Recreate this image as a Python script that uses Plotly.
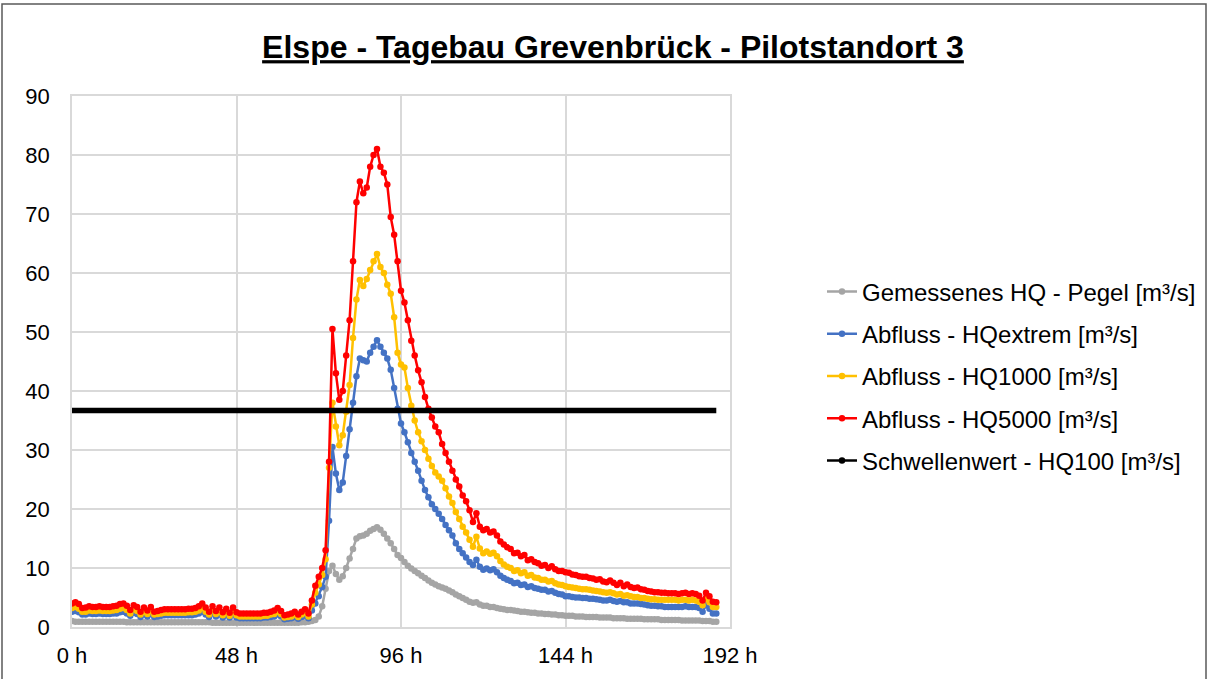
import plotly.graph_objects as go

# ---------------- data (hourly, 0 h .. 188 h) ----------------
hours = list(range(0, 189))

pegel = [
    1.0, 0.9, 0.9, 0.9, 0.9, 0.9, 0.9, 0.9, 0.9, 0.9, 0.9, 0.9, 0.9, 0.9, 0.9, 0.9,
    0.8, 0.8, 0.8, 0.8, 0.8, 0.8, 0.8, 0.8, 0.8, 0.8, 0.8, 0.8, 0.8, 0.8, 0.8, 0.8,
    0.8, 0.8, 0.8, 0.8, 0.8, 0.8, 0.8, 0.8, 0.8, 0.7, 0.7, 0.7, 0.7, 0.7, 0.7, 0.7,
    0.7, 0.7, 0.7, 0.7, 0.7, 0.7, 0.7, 0.7, 0.7, 0.7, 0.7, 0.7, 0.7, 0.7, 0.7, 0.7,
    0.7, 0.7, 0.7, 0.8, 0.8, 0.9,
    1.0, 1.2, 1.8, 3.5, 6.5, 9.5, 10.4, 9.0, 8.0, 8.6, 10.0, 11.6, 13.2, 15.0, 15.4,
    15.5, 15.8, 16.3, 16.6, 16.9, 16.5, 15.8, 15.0, 14.2, 13.2, 12.2, 11.7, 11.0,
    10.4, 9.9, 9.5, 9.1, 8.7, 8.3, 7.9, 7.5, 7.2, 6.9, 6.7, 6.5, 6.2, 5.9, 5.5, 5.2,
    4.9, 4.6, 4.3, 4.1, 4.2, 3.8, 3.6, 3.6, 3.4, 3.4, 3.2, 3.1, 3.0, 2.9, 2.9, 2.8,
    2.7, 2.6, 2.6, 2.5, 2.4, 2.4, 2.3, 2.3, 2.2, 2.2, 2.1, 2.1, 2.0, 2.0, 1.9, 1.9,
    1.9, 1.8, 1.8, 1.8, 1.7, 1.7, 1.7, 1.7, 1.6, 1.6, 1.6, 1.6, 1.5, 1.5, 1.5, 1.5,
    1.4, 1.4, 1.4, 1.4, 1.4, 1.3, 1.3, 1.3, 1.3, 1.3, 1.2, 1.2, 1.2, 1.2, 1.2, 1.2,
    1.1, 1.1, 1.1, 1.1, 1.1, 1.1, 1.0, 1.0, 1.0, 0.9, 0.9,
]

hq_extrem = [
    2.6, 2.7, 2.5, 2.1, 2.1, 2.3, 2.2, 2.2, 2.3, 2.2, 2.2, 2.2, 2.3, 2.3, 2.5, 2.6,
    2.3, 1.9, 2.4, 2.2, 1.7, 2.1, 1.8, 2.2, 1.7, 1.8, 1.9, 2.0, 2.0, 2.0, 2.0, 2.0,
    2.0, 2.0, 2.0, 2.0, 2.1, 2.3, 2.6, 2.1, 1.7, 2.3, 1.8, 2.1, 1.6, 2.0, 1.6, 2.1,
    1.6, 1.5, 1.5, 1.5, 1.5, 1.5, 1.5, 1.5, 1.6, 1.6, 1.7, 1.8, 2.1, 1.8, 1.3, 1.4,
    1.5, 1.7, 1.4, 1.7, 1.9, 1.5,
    2.8, 4.0, 5.2, 6.8, 8.5, 18.0, 30.5, 26.0, 23.2, 24.5, 29.0, 33.5, 38.0, 42.5,
    45.5, 45.2, 45.0, 46.5, 47.5, 48.6, 47.5, 46.5, 45.5, 43.6, 40.5, 37.0, 34.5,
    33.0, 31.3, 29.5, 28.0, 26.5, 24.8, 23.2, 22.0, 20.8, 20.0, 19.2, 18.3, 17.3,
    16.4, 15.5, 14.2, 13.2, 12.5, 11.8, 11.0, 10.5, 11.4, 10.2, 9.7, 9.9, 9.6, 9.8,
    9.3, 8.7, 8.3, 8.0, 7.8, 7.4, 7.5, 7.1, 7.2, 6.8, 6.9, 6.6, 6.5, 6.3, 6.3, 6.0,
    6.1, 5.8, 5.6, 5.5, 5.2, 5.2, 5.1, 5.0, 5.0, 4.9, 4.9, 4.8, 4.8, 4.7, 4.6, 4.5,
    4.5, 4.6, 4.4, 4.3, 4.4, 4.2, 4.2, 4.0, 4.0, 4.0, 3.9, 3.8, 3.7, 3.6, 3.6, 3.5,
    3.5, 3.4, 3.4, 3.4, 3.4, 3.4, 3.4, 3.5, 3.4, 3.4, 3.4, 3.2, 2.6, 3.7, 3.1, 2.3,
    2.3,
]

hq1000 = [
    3.2, 3.4, 3.1, 2.6, 2.6, 2.8, 2.7, 2.7, 2.8, 2.7, 2.7, 2.7, 2.8, 2.9, 3.1, 3.2,
    2.9, 2.3, 3.0, 2.7, 2.1, 2.6, 2.2, 2.7, 2.1, 2.2, 2.3, 2.4, 2.4, 2.4, 2.4, 2.4,
    2.4, 2.4, 2.5, 2.5, 2.6, 2.8, 3.2, 2.6, 2.1, 2.8, 2.2, 2.6, 2.0, 2.5, 1.9, 2.6,
    2.0, 1.8, 1.8, 1.8, 1.8, 1.8, 1.8, 1.8, 1.9, 1.9, 2.1, 2.2, 2.6, 2.2, 1.6, 1.7,
    1.8, 2.1, 1.7, 2.1, 2.4, 1.8,
    3.8, 5.8, 7.2, 8.8, 11.5, 27.0, 38.0, 34.0, 30.8, 32.5, 36.5, 41.0, 49.0, 55.5,
    58.8, 57.8, 59.0, 60.5, 62.0, 63.2, 61.0, 60.0, 58.0, 56.5, 52.5, 46.5, 44.5,
    44.0, 40.5, 37.5, 35.0, 33.0, 31.5, 30.0, 28.5, 27.3, 26.2, 25.5, 24.8, 23.5,
    22.1, 21.0, 19.5, 18.3, 17.0, 16.0, 14.8, 13.6, 15.3, 13.3, 12.5, 12.8, 12.4,
    12.6, 12.0, 11.2, 10.6, 10.2, 10.0, 9.5, 9.6, 9.1, 9.3, 8.7, 8.8, 8.4, 8.3, 8.0,
    8.0, 7.7, 7.8, 7.4, 7.2, 7.1, 6.9, 6.8, 6.7, 6.6, 6.5, 6.4, 6.4, 6.3, 6.2, 6.1,
    6.0, 5.9, 5.8, 5.9, 5.7, 5.5, 5.6, 5.3, 5.4, 5.2, 5.1, 5.1, 4.9, 4.9, 4.8, 4.7,
    4.7, 4.6, 4.6, 4.6, 4.6, 4.6, 4.6, 4.5, 4.6, 4.6, 4.5, 4.6, 4.5, 4.3, 3.7, 4.8,
    4.2, 3.4, 3.4,
]

hq5000 = [
    4.0, 4.2, 3.9, 3.2, 3.3, 3.5, 3.4, 3.4, 3.5, 3.4, 3.4, 3.4, 3.5, 3.6, 3.9, 4.0,
    3.6, 2.9, 3.7, 3.4, 2.6, 3.3, 2.8, 3.4, 2.6, 2.7, 2.9, 3.0, 3.0, 3.0, 3.0, 3.0,
    3.0, 3.0, 3.1, 3.1, 3.2, 3.5, 4.0, 3.3, 2.6, 3.5, 2.7, 3.3, 2.5, 3.1, 2.4, 3.3,
    2.5, 2.3, 2.3, 2.3, 2.3, 2.3, 2.3, 2.3, 2.4, 2.4, 2.6, 2.8, 3.2, 2.7, 2.0, 2.1,
    2.3, 2.6, 2.1, 2.6, 3.0, 2.3,
    4.5, 7.0, 8.5, 10.0, 13.0, 28.0, 50.5, 43.0, 38.5, 40.0, 46.0, 52.0, 62.0, 72.0,
    75.5, 73.5, 74.5, 78.0, 80.0, 81.0, 78.0, 77.0, 75.0, 69.5, 66.5, 62.0, 57.0,
    55.0, 52.0, 48.5, 46.0, 43.5, 41.5, 39.0, 37.0, 35.5, 34.0, 33.0, 31.0, 29.5,
    28.0, 26.5, 25.0, 23.8, 22.3, 21.3, 19.8, 17.8, 19.3, 17.0, 16.4, 16.6, 16.0,
    16.2, 15.5, 14.5, 14.0, 13.5, 13.2, 12.5, 12.6, 12.0, 12.2, 11.3, 11.5, 11.0,
    10.8, 10.4, 10.5, 10.0, 10.3, 9.8, 9.5, 9.5, 9.3, 9.2, 8.9, 8.8, 8.6, 8.5, 8.5,
    8.3, 8.2, 8.0, 8.1, 7.7, 7.6, 7.9, 7.5, 7.1, 7.5, 6.9, 7.2, 6.8, 6.6, 6.7, 6.4,
    6.3, 6.1, 6.0, 5.9, 5.9, 5.8, 5.8, 5.7, 5.7, 5.7, 5.6, 5.7, 5.8, 5.6, 5.7, 5.6,
    5.3, 4.5, 5.8, 5.2, 4.3, 4.2,
]

threshold_hours = [0, 188]
threshold_values = [36.7, 36.7]

x_ticks = [0, 48, 96, 144, 192]
x_tick_labels = ["0 h", "48 h", "96 h", "144 h", "192 h"]

names = [
    "Gemessenes HQ - Pegel [m³/s]",
    "Abfluss - HQextrem [m³/s]",
    "Abfluss - HQ1000 [m³/s]",
    "Abfluss - HQ5000 [m³/s]",
    "Schwellenwert - HQ100 [m³/s]",
]
colors = ["#A5A5A5", "#4472C4", "#FFC000", "#FF0000", "#000000"]

FONT = "Arial, Liberation Sans, sans-serif"

fig = go.Figure()
for i, series in enumerate([pegel, hq_extrem, hq1000, hq5000]):
    fig.add_trace(go.Scatter(
        x=hours, y=series, name=names[i], legendgroup=f"g{i}",
        mode="lines+markers",
        line=dict(color=colors[i], width=2.5),
        marker=dict(color=colors[i], size=6.5),
        hoverinfo="x+y+name",
    ))

# threshold line (thick) and its legend entry
fig.add_trace(go.Scatter(
    x=threshold_hours, y=threshold_values, name=names[4], legendgroup="g4",
    mode="lines", line=dict(color=colors[4], width=5.5), showlegend=False,
))
fig.add_trace(go.Scatter(
    x=[None], y=[None], name=names[4], legendgroup="g4",
    mode="lines+markers", line=dict(color=colors[4], width=2.5),
    marker=dict(color=colors[4], size=6.5), showlegend=True,
))

W, H = 1214, 679
L, R, T, B = 72, 484, 96, 52
pw, ph = W - L - R, H - T - B

def px_x(p):
    return (p - L) / pw

def px_y(p):
    return (H - B - p) / ph

fig.update_layout(
    width=W, height=H,
    margin=dict(l=L, r=R, t=T, b=B, autoexpand=False),
    paper_bgcolor="white", plot_bgcolor="white",
    font=dict(family=FONT, color="#000000", size=22),
    title=dict(
        text="Elspe - Tagebau Grevenbrück - Pilotstandort 3",
        font=dict(family=FONT, size=32, weight="bold", lineposition="under", color="#000000"),
        x=613 / W, xref="container", xanchor="center",
        y=1 - 47 / H, yref="container", yanchor="middle",
    ),
    xaxis=dict(
        range=[0, 192], tickvals=x_ticks, ticktext=x_tick_labels,
        showgrid=True, gridcolor="#D9D9D9", gridwidth=1.5,
        showline=True, linecolor="#D9D9D9", linewidth=1.5, mirror=True,
        zeroline=False, ticks="", ticklabelstandoff=8,
        tickfont=dict(size=22, family=FONT),
    ),
    yaxis=dict(
        range=[0, 90], dtick=10, tick0=0,
        showgrid=True, gridcolor="#D9D9D9", gridwidth=1.5,
        showline=True, linecolor="#D9D9D9", linewidth=1.5, mirror=True,
        zeroline=False, ticks="", ticklabelstandoff=16,
        tickfont=dict(size=22, family=FONT),
    ),
    legend=dict(
        x=px_x(822), xanchor="left",
        y=px_y(376), yanchor="middle",
        font=dict(size=24, family=FONT),
        tracegroupgap=8, bgcolor="rgba(0,0,0,0)",
    ),
    showlegend=True,
    shapes=[dict(
        type="rect", xref="paper", yref="paper",
        x0=px_x(2), x1=px_x(1206), y0=px_y(700), y1=px_y(4),
        line=dict(color="#595959", width=1.5), fillcolor="rgba(0,0,0,0)",
        layer="below",
    )],
)

fig.write_html(
    "out.html",
    config={"displayModeBar": False},
    post_script="document.body.style.margin='0';document.body.style.padding='0';",
)
